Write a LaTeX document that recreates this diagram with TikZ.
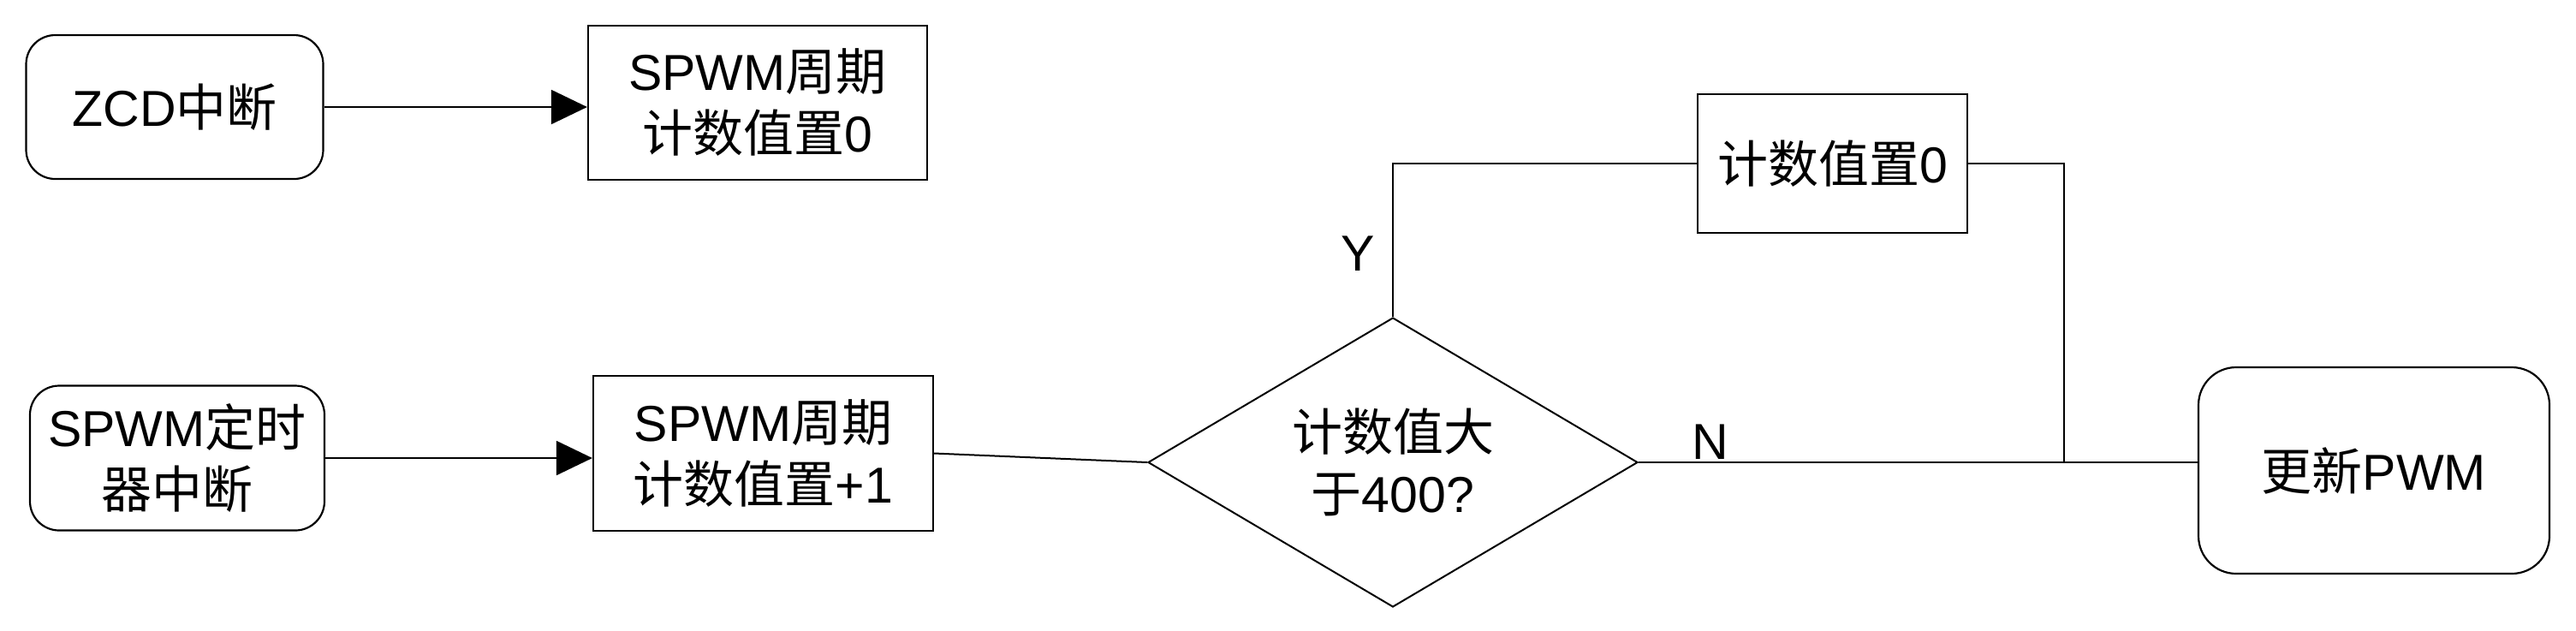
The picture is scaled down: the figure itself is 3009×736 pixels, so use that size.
\documentclass[tikz,border=0pt]{standalone}
\usepackage{fontspec}
\setmainfont{Liberation Sans}
\newfontfamily\cjk{Noto Sans CJK SC}
\newcommand{\zh}[1]{{\cjk #1}}
\usetikzlibrary{shapes.geometric}
\usetikzlibrary{arrows.meta}

\begin{document}
\begin{tikzpicture}[x=0.5pt,y=0.5pt,yscale=-1,xscale=1,
  every node/.style={font=\fontsize{29.5}{36}\selectfont, align=center, inner sep=0pt},
  roundbox/.style={draw, line width=1.1pt, rounded corners=17pt},
  plainbox/.style={draw, line width=1.1pt},
  choice/.style={draw, diamond, aspect=1.69, line width=1pt},
  flow/.style={line width=1pt},
  arrowline/.style={flow, -{Triangle[length=21pt,width=20pt]}}]
\useasboundingbox (0,0) rectangle (3009,736);

%Rounded Rect [id:zcd]
\node [roundbox, minimum width=173.5pt, minimum height=84pt] (zcd) at (204,125) {ZCD\zh{中断}};
%Rounded Rect [id:tim]
\node [roundbox, minimum width=172pt, minimum height=84.5pt] (tim) at (207,535) {SPWM\zh{定时}\\\zh{器中断}};
%Shape: Rectangle [id:clr]
\node [plainbox, minimum width=198pt, minimum height=90pt] (clr) at (885,120) {SPWM\zh{周期}\\\zh{计数值置}0};
%Shape: Rectangle [id:inc]
\node [plainbox, minimum width=198.5pt, minimum height=90.5pt] (inc) at (891.5,529.5) {SPWM\zh{周期}\\\zh{计数值置}+1};
%Shape: Diamond [id:chk]
\node [choice, minimum width=286pt, minimum height=169pt] (chk) at (1627,540) {\zh{计数值大}\\\zh{于}400?};
%Shape: Rectangle [id:rst]
\node [plainbox, minimum width=157.5pt, minimum height=81pt] (rst) at (2140.5,191) {\zh{计数值置}0};
%Rounded Rect [id:pwm]
\node [roundbox, rounded corners=22pt, minimum width=205pt, minimum height=120.5pt] (pwm) at (2773,549.5) {\zh{更新}PWM};

\coordinate (jn) at (2411,540);

%Connector
\draw [arrowline] (zcd.east) -- (zcd.east -| clr.west);
\draw [arrowline] (tim.east) -- (tim.east -| inc.west);
\draw [flow] (inc.east) -- (chk.west);
\draw [flow] (chk.north) |- (rst.west);
\draw [flow] (rst.east) -| (jn);
\draw [flow] (chk.east) -- (chk.east -| pwm.west);

% Text Node
\node (lbly) at (1586,296) {Y};
% Text Node
\node (lbln) at (1998,516) {N};

\end{tikzpicture}
\end{document}
